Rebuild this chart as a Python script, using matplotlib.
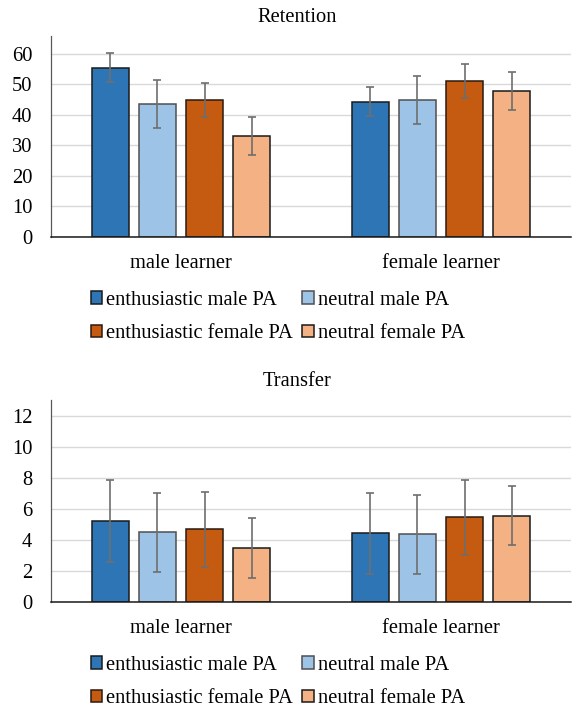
import matplotlib
matplotlib.use("Agg")
import matplotlib.pyplot as plt
import numpy as np

plt.rcParams["font.family"] = ["Liberation Serif", "DejaVu Serif"]

groups = ["male learner", "female learner"]
series = ["enthusiastic male PA", "neutral male PA",
          "enthusiastic female PA", "neutral female PA"]
colors = ["#2E75B6", "#9DC3E6", "#C55A11", "#F4B183"]
edges = ["#1a1a1a", "#505050", "#2a1a10", "#1a1a1a"]

# rows = series, cols = groups (male learner, female learner)
retention_mean = [[55.5, 44.4], [43.7, 44.9], [45.0, 51.2], [33.1, 47.9]]
retention_sd = [[4.7, 4.75], [7.9, 7.85], [5.5, 5.55], [6.3, 6.3]]
transfer_mean = [[5.2, 4.4], [4.47, 4.35], [4.68, 5.43], [3.45, 5.55]]
transfer_sd = [[2.65, 2.62], [2.55, 2.55], [2.42, 2.43], [1.95, 1.92]]

retention_ticks = [0, 10, 20, 30, 40, 50, 60]
transfer_ticks = [0, 2, 4, 6, 8, 10, 12]

W, H = 572, 708
FS = 14.8


def draw_panel(fig, rect, means, sds, ticks, ymax, title, title_y, legend_y):
    ax = fig.add_axes(rect)
    x = np.arange(len(groups))
    step, width = 0.181, 0.143
    bars = []
    for i, name in enumerate(series):
        b = ax.bar(x + (i - 1.5) * step, means[i], width, color=colors[i],
                   edgecolor=edges[i], linewidth=1.1, label=name, zorder=2)
        ax.errorbar(x + (i - 1.5) * step, means[i], yerr=sds[i], fmt="none",
                    ecolor="#6e6e6e", elinewidth=1.2, capsize=3,
                    capthick=1.2, zorder=3)
        bars.append(b)
    ax.set_xlim(-0.5, 1.5)
    ax.set_ylim(0, ymax)
    ax.set_yticks(ticks)
    ax.set_xticks(x)
    ax.set_xticklabels(groups)
    ax.yaxis.grid(True, color="#d9d9d9", linewidth=1.0)
    ax.set_axisbelow(True)
    for s in ["top", "right"]:
        ax.spines[s].set_visible(False)
    ax.spines["left"].set_color("#595959")
    ax.spines["left"].set_linewidth(0.9)
    ax.spines["bottom"].set_color("#1a1a1a")
    ax.spines["bottom"].set_linewidth(1.1)
    ax.spines["bottom"].set_zorder(4)
    ax.tick_params(axis="y", length=0, pad=13.5, labelsize=FS)
    ax.tick_params(axis="x", length=0, pad=12.5, labelsize=FS)
    fig.text(297 / W, 1 - title_y / H, title, ha="center", va="baseline",
             fontsize=FS)
    # legend filled column-wise, so reorder to read row by row
    order = [0, 2, 1, 3]
    fig.legend(handles=[bars[k] for k in order],
               labels=[series[k] for k in order], ncol=2, frameon=False,
               loc="center left", bbox_to_anchor=(91 / W, 1 - legend_y / H),
               fontsize=FS, handlelength=0.55, handleheight=0.55,
               handletextpad=0.2, columnspacing=0.45, labelspacing=0.72,
               borderpad=0, borderaxespad=0)
    return ax


fig = plt.figure(figsize=(W / 100, H / 100), dpi=100)
draw_panel(fig, [51 / W, 1 - 237 / H, 520 / W, 201 / H],
           retention_mean, retention_sd, retention_ticks, 65.9,
           "Retention", 22, 317)
draw_panel(fig, [51 / W, 1 - 601.7 / H, 520 / W, 201.7 / H],
           transfer_mean, transfer_sd, transfer_ticks, 13.0,
           "Transfer", 386, 682)
fig.savefig("out.png", dpi=100)
